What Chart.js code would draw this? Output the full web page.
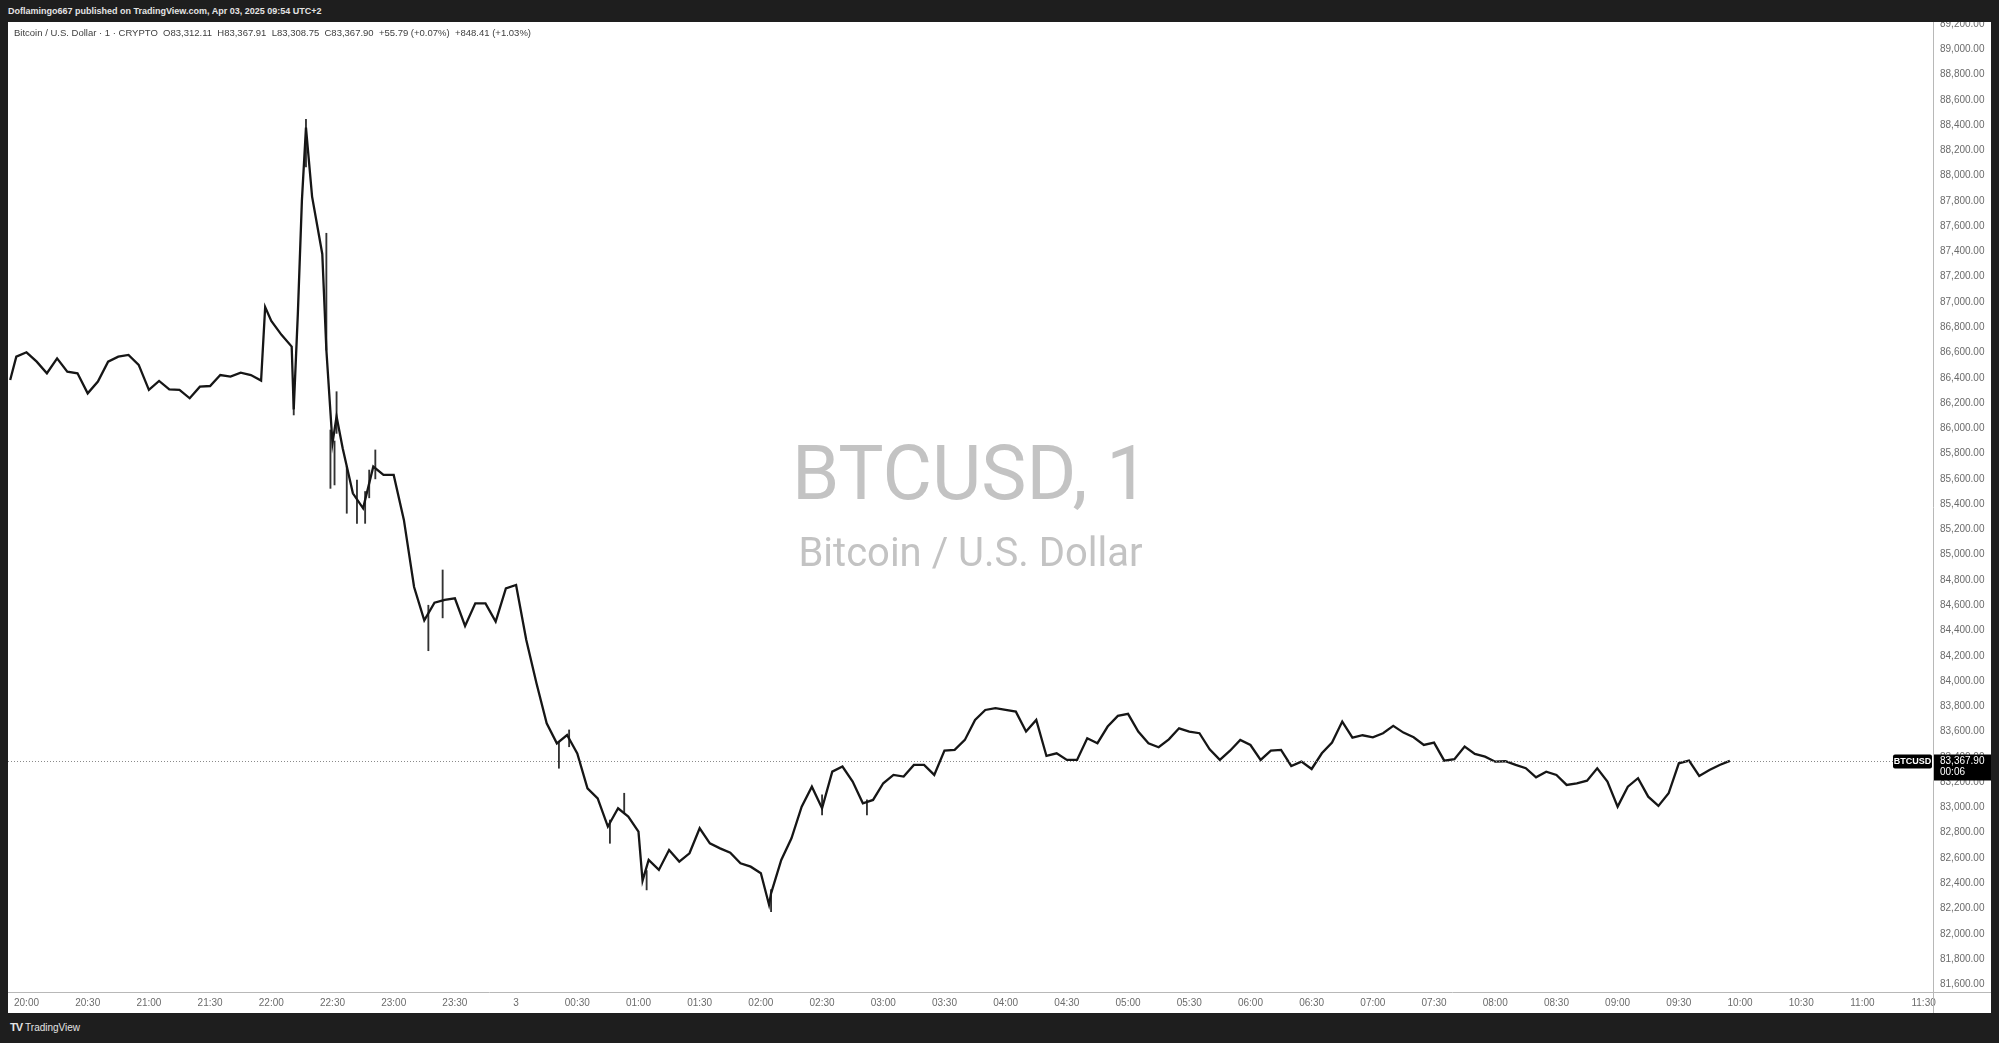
<!DOCTYPE html>
<html lang="en">
<head>
<meta charset="UTF-8">
<title>BTCUSD, 1</title>
<script src="https://cdn.jsdelivr.net/npm/chart.js"></script>
<style>
    body { margin: 0; width: 1999px; height: 1043px; background: #1e1e1e; overflow: hidden; font-family: 'Liberation Sans', Arial, sans-serif; }
    #topbar { position: absolute; left: 8px; top: 0; height: 22px; line-height: 22px; color: #e4e4e4; font-size: 9px; font-weight: bold; }
    #panel { position: absolute; left: 8px; top: 22px; width: 1983px; height: 991px; background: #fff; }
    #panel canvas { position: absolute; left: 0; top: 0; }
    #legend { position: absolute; left: 6px; top: 5px; font-size: 9.5px; color: #404040; white-space: pre; z-index: 2; }
    #footer { position: absolute; left: 10px; top: 1021px; color: #e4e4e4; font-size: 10px; }
    #footer b { font-size: 11px; letter-spacing: -1px; margin-right: 3px; }
</style>
</head>
<body>
<div id="topbar">Doflamingo667 published on TradingView.com, Apr 03, 2025 09:54 UTC+2</div>
<div id="panel">
    <div id="legend">Bitcoin / U.S. Dollar · 1 · CRYPTO  O83,312.11  H83,367.91  L83,308.75  C83,367.90  +55.79 (+0.07%)  +848.41 (+1.03%)</div>
    <canvas id="myChart"></canvas>
</div>
<div id="footer"><b>TV</b>TradingView</div>

<script>
// 1-minute BTCUSD, every ~5 minutes (plus a few extremes)
const times = [
    '19:52','19:55','20:00','20:05','20:10','20:15','20:20','20:25','20:30','20:35','20:40','20:45','20:50','20:55',
    '21:00','21:05','21:10','21:15','21:20','21:25','21:30','21:35','21:40','21:45','21:50','21:55','21:57',
    '22:00','22:05','22:10','22:11','22:13','22:15','22:17','22:20','22:25','22:27','22:30','22:32','22:35','22:40','22:45','22:50','22:55',
    '23:00','23:05','23:10','23:15','23:20','23:25','23:30','23:35','23:40','23:45','23:50','23:55',
    '00:00','00:05','00:10','00:15','00:20','00:25','00:30','00:35','00:40','00:45','00:50','00:55',
    '01:00','01:02','01:05','01:10','01:15','01:20','01:25','01:30','01:35','01:40','01:45','01:50','01:55',
    '02:00','02:04','02:05','02:10','02:15','02:20','02:25','02:30','02:35','02:40','02:45','02:50','02:55',
    '03:00','03:05','03:10','03:15','03:20','03:25','03:30','03:35','03:40','03:45','03:50','03:55',
    '04:00','04:05','04:10','04:15','04:20','04:25','04:30','04:35','04:40','04:45','04:50','04:55',
    '05:00','05:05','05:10','05:15','05:20','05:25','05:30','05:35','05:40','05:45','05:50','05:55',
    '06:00','06:05','06:10','06:15','06:20','06:25','06:30','06:35','06:40','06:45','06:50','06:55',
    '07:00','07:05','07:10','07:15','07:20','07:25','07:30','07:35','07:40','07:45','07:50','07:55',
    '08:00','08:05','08:10','08:15','08:20','08:25','08:30','08:35','08:40','08:45','08:50','08:55',
    '09:00','09:05','09:10','09:15','09:20','09:25','09:30','09:35','09:40','09:45','09:50','09:55'
];
const closes = [
    86383, 86567, 86602, 86528, 86436, 86554, 86449, 86436, 86277, 86370, 86528, 86567, 86581, 86502,
    86304, 86375, 86309, 86304, 86238, 86330, 86335, 86422, 86409, 86441, 86422, 86378, 86960,
    86850, 86740, 86647, 86150, 86900, 87800, 88380, 87834, 87380, 86620, 85882, 86093, 85842, 85486, 85367, 85697, 85631,
    85631, 85275, 84744, 84480, 84620, 84642, 84655, 84436, 84615, 84615, 84470, 84734,
    84760, 84325, 83982, 83666, 83507, 83573, 83428, 83151, 83072, 82848, 82993, 82927,
    82808, 82420, 82584, 82505, 82663, 82571, 82637, 82835, 82716, 82676, 82642, 82558, 82531,
    82479, 82230, 82320, 82584, 82755, 83006, 83164, 82993, 83283, 83323, 83204, 83033, 83059,
    83191, 83257, 83244, 83336, 83336, 83257, 83449, 83455, 83534, 83692, 83771, 83785,
    83771, 83758, 83600, 83692, 83407, 83428, 83376, 83376, 83547, 83508, 83640, 83724,
    83740, 83600, 83508, 83476, 83539, 83626, 83600, 83587, 83460, 83376, 83449, 83534,
    83494, 83376, 83449, 83455, 83328, 83362, 83304, 83428, 83513, 83679, 83552, 83571,
    83555, 83587, 83645, 83592, 83555, 83494, 83513, 83370, 83381, 83481, 83423, 83402,
    83362, 83365, 83336, 83310, 83238, 83283, 83257, 83178, 83191, 83212, 83310, 83204,
    83006, 83164, 83231, 83085, 83012, 83112, 83349, 83370, 83249, 83296, 83336, 83368
];

// long wicks that stick out of the close line
const wickTimes = ['22:11','22:17','22:27','22:29','22:31','22:32','22:37','22:42','22:46','22:48','22:51',
    '23:17','23:24','00:21','00:26','00:46','00:53','01:04','02:05','02:30','02:52'];
const wickLows  = [86106, 88070, 86620, 85525, 85552, 85960, 85328, 85248, 85248, 85450, 85600,
    84240, 84500, 83310, 83480, 82716, 82950, 82347, 82175, 82940, 82940];
const wickHighs = [86304, 88446, 87544, 85987, 85900, 86290, 85700, 85591, 85500, 85670, 85829,
    84600, 84879, 83520, 83613, 82900, 83112, 82500, 82350, 83100, 83060];

const priceTicks = [81600, 81800, 82000, 82200, 82400, 82600, 82800, 83000, 83200, 83400, 83600, 83800,
    84000, 84200, 84400, 84600, 84800, 85000, 85200, 85400, 85600, 85800, 86000, 86200, 86400, 86600,
    86800, 87000, 87200, 87400, 87600, 87800, 88000, 88200, 88400, 88600, 88800, 89000, 89200];
const tickTimes = ['20:00','20:30','21:00','21:30','22:00','22:30','23:00','23:30','00:00','00:30','01:00','01:30',
    '02:00','02:30','03:00','03:30','04:00','04:30','05:00','05:30','06:00','06:30','07:00','07:30',
    '08:00','08:30','09:00','09:30','10:00','10:30','11:00','11:30'];
const tickLabels = ['20:00','20:30','21:00','21:30','22:00','22:30','23:00','23:30','3','00:30','01:00','01:30',
    '02:00','02:30','03:00','03:30','04:00','04:30','05:00','05:30','06:00','06:30','07:00','07:30',
    '08:00','08:30','09:00','09:30','10:00','10:30','11:00','11:30'];

const lastPrice = 83367.90;
const symbol = 'BTCUSD';
const countdown = '00:06';

// minutes after 20:00 (morning hours belong to the next day)
function toMinutes(hhmm) {
    const [h, m] = hhmm.split(':').map(Number);
    return (h < 12 ? h + 24 : h) * 60 + m - 20 * 60;
}

function fmtPrice(v) {
    return v.toLocaleString('en-US', { minimumFractionDigits: 2, maximumFractionDigits: 2 });
}

const axisColor = '#b8b8b8';
const tickFont = { family: "'Liberation Sans', Arial, sans-serif", size: 10 };

const closePoints = times.map((t, i) => ({ x: toMinutes(t), y: closes[i] }));
const wickPoints = wickTimes.map((t, i) => ({ x: toMinutes(t), y: [wickLows[i], wickHighs[i]] }));

const watermark = {
    id: 'watermark',
    beforeDatasetsDraw(chart) {
        const { ctx, chartArea } = chart;
        const cx = (chartArea.left + chartArea.right) / 2;
        ctx.save();
        ctx.fillStyle = '#c3c3c3';
        ctx.textAlign = 'center';
        ctx.textBaseline = 'alphabetic';
        ctx.font = "76px Roboto, 'Liberation Sans', sans-serif";
        ctx.fillText('BTCUSD, 1', cx, chartArea.top + 477);
        ctx.font = "40px Roboto, 'Liberation Sans', sans-serif";
        ctx.fillText('Bitcoin / U.S. Dollar', cx, chartArea.top + 544);
        ctx.restore();
    }
};

const priceLine = {
    id: 'priceLine',
    afterDraw(chart) {
        const { ctx, chartArea, scales } = chart;
        const y = Math.round(scales.y.getPixelForValue(lastPrice)) + 0.5;
        ctx.save();
        // axis lines running into the corner
        ctx.strokeStyle = axisColor;
        ctx.lineWidth = 1;
        ctx.beginPath();
        ctx.moveTo(chartArea.right + 0.5, chartArea.bottom);
        ctx.lineTo(chartArea.right + 0.5, chart.height);
        ctx.moveTo(chartArea.right, chartArea.bottom + 0.5);
        ctx.lineTo(chart.width, chartArea.bottom + 0.5);
        ctx.stroke();

        // dotted last price line
        ctx.strokeStyle = '#8a8a8a';
        ctx.setLineDash([1, 2]);
        ctx.beginPath();
        ctx.moveTo(chartArea.left, y);
        ctx.lineTo(chartArea.right, y);
        ctx.stroke();
        ctx.setLineDash([]);

        // symbol tag and price tag
        ctx.fillStyle = '#000';
        ctx.beginPath();
        ctx.roundRect(chartArea.right - 40, y - 7, 39, 14, 2);
        ctx.fill();
        ctx.fillRect(chartArea.right + 1, y - 7, 57, 26);
        ctx.fillStyle = '#fff';
        ctx.textBaseline = 'middle';
        ctx.textAlign = 'center';
        ctx.font = "bold 9px 'Liberation Sans', Arial, sans-serif";
        ctx.fillText(symbol, chartArea.right - 20.5, y);
        ctx.textAlign = 'left';
        ctx.font = "10px 'Liberation Sans', Arial, sans-serif";
        ctx.fillText(fmtPrice(lastPrice), chartArea.right + 7, y);
        ctx.fillText(countdown, chartArea.right + 7, y + 11);
        ctx.restore();
    }
};

const ctx = document.getElementById('myChart').getContext('2d');
const chart = new Chart(ctx, {
    type: 'line',
    data: {
        datasets: [
            {
                label: 'BTCUSD close',
                data: closePoints,
                borderColor: '#161616',
                borderWidth: 2.3,
                borderJoinStyle: 'miter',
                pointRadius: 0,
                tension: 0,
                order: 1
            },
            {
                type: 'bar',
                label: 'Wicks',
                data: wickPoints,
                backgroundColor: '#333',
                barThickness: 1.2,
                grouped: false,
                order: 2
            }
        ]
    },
    options: {
        responsive: true,
        maintainAspectRatio: false,
        animation: false,
        events: [],
        layout: { padding: 0 },
        plugins: { legend: { display: false }, tooltip: { enabled: false } },
        scales: {
            x: {
                type: 'linear',
                position: 'bottom',
                min: -9.07,
                max: 934.6,
                offset: false,
                grid: { display: false, drawTicks: false },
                border: { display: true, color: axisColor },
                ticks: {
                    font: tickFont,
                    color: '#6b6b6b',
                    padding: 5,
                    maxRotation: 0,
                    autoSkip: false,
                    callback: (v, i) => tickLabels[i]
                },
                afterBuildTicks: s => { s.ticks = tickTimes.map(t => ({ value: toMinutes(t) })); },
                afterFit: s => { s.height = 21; s.paddingLeft = 0; s.paddingRight = 0; }
            },
            y: {
                type: 'linear',
                position: 'right',
                min: 81539,
                max: 89216,
                grid: { display: false, drawTicks: false },
                border: { display: true, color: axisColor },
                ticks: {
                    font: tickFont,
                    color: '#6b6b6b',
                    padding: 7,
                    autoSkip: false,
                    callback: v => fmtPrice(v)
                },
                afterBuildTicks: s => { s.ticks = priceTicks.map(v => ({ value: v })); },
                afterFit: s => { s.width = 58; s.paddingTop = 0; s.paddingBottom = 0; }
            }
        }
    },
    plugins: [watermark, priceLine]
});
</script>
</body>
</html>
